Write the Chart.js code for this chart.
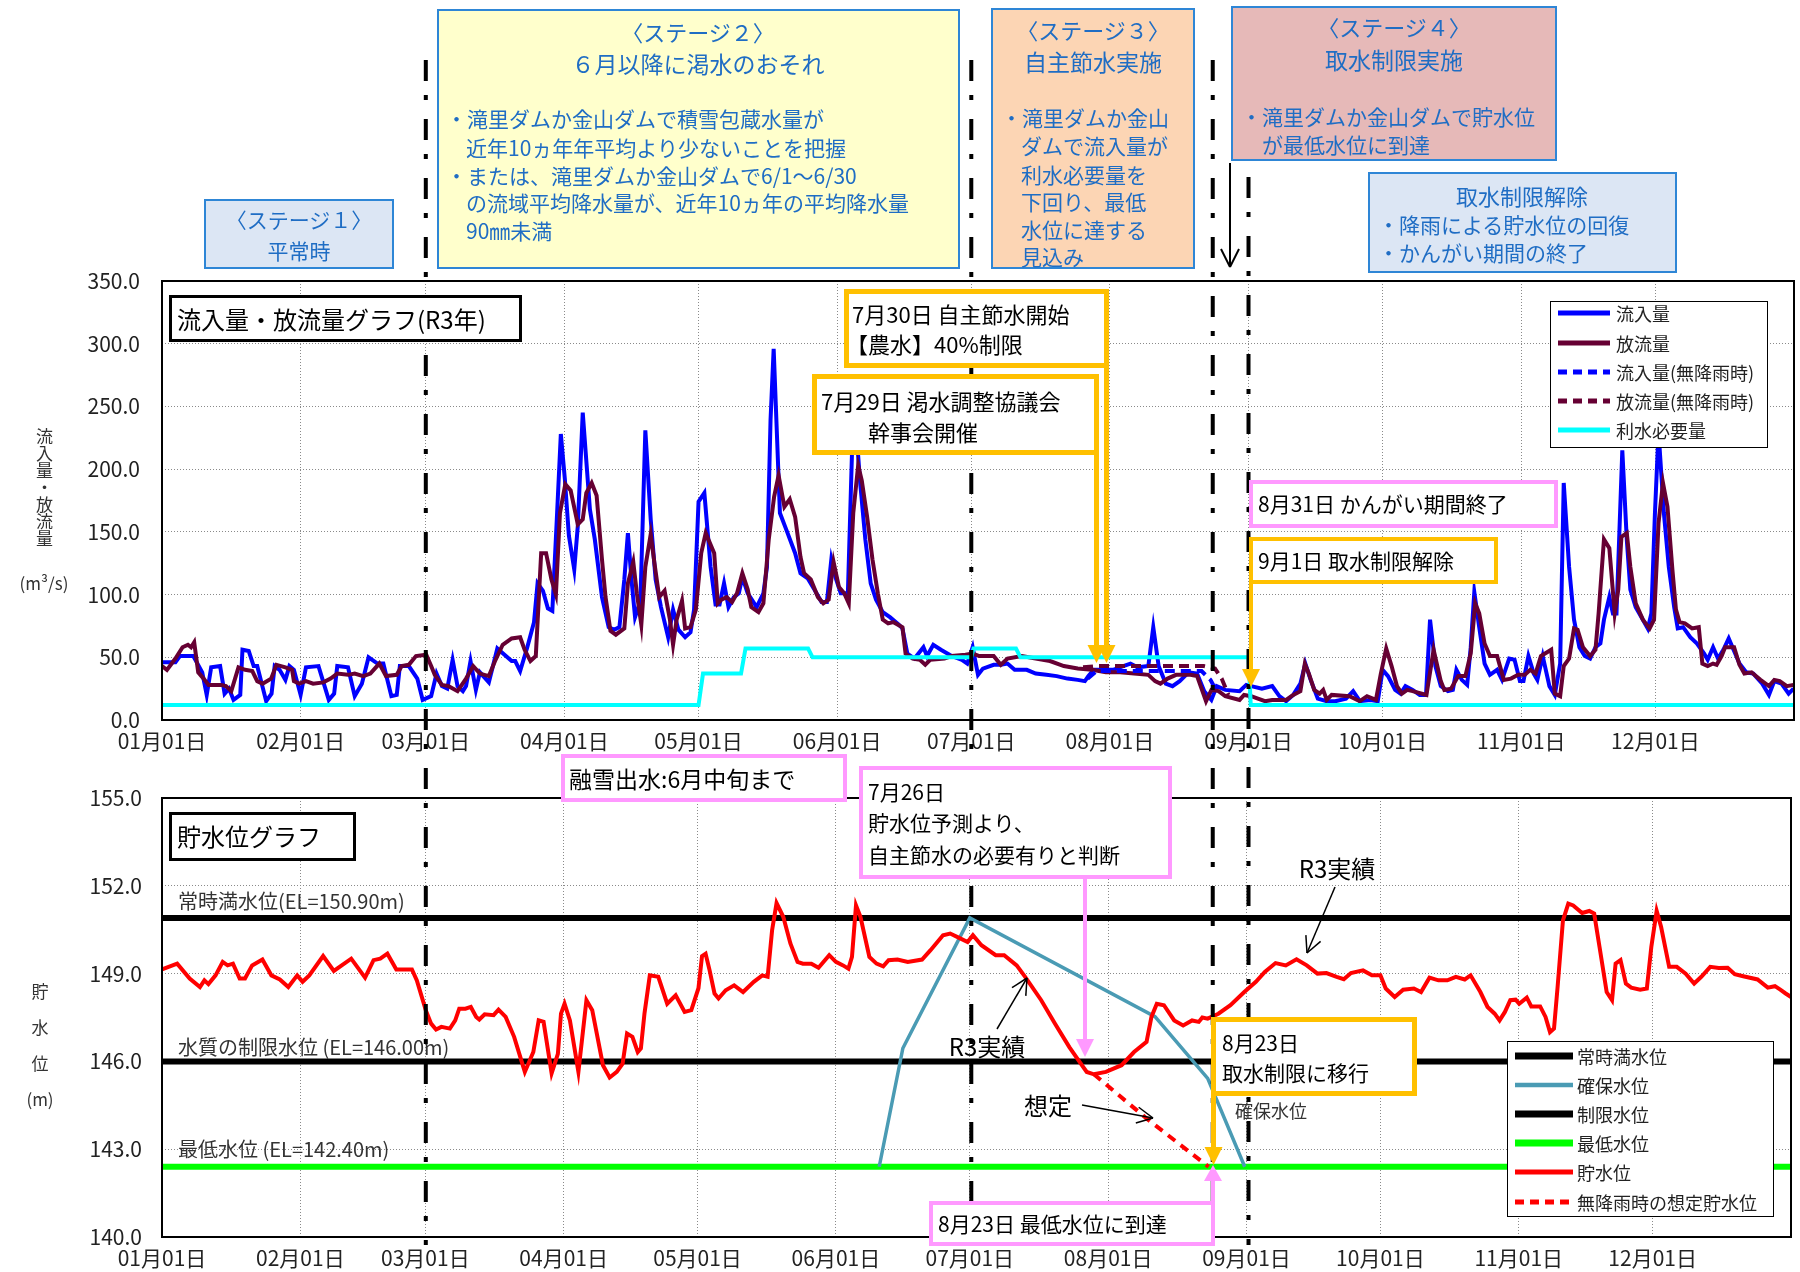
<!DOCTYPE html>
<html lang="ja">
<head>
<meta charset="utf-8">
<script src="https://cdn.jsdelivr.net/npm/chart.js@4.4.1/dist/chart.umd.min.js"></script>
<style>
  html, body { margin: 0; padding: 0; background: #fff; }
  #wrap { position: relative; width: 1800px; height: 1272px; overflow: hidden;
          font-family: "Noto Sans CJK JP", "Noto Sans", sans-serif; }
  canvas { position: absolute; left: 0; }
  #topChart { top: 0; }
  #bottomChart { top: 760px; }
  .box { position: absolute; box-sizing: border-box; }
  .ln { position: absolute; white-space: nowrap; }
  .vt { position: absolute; writing-mode: vertical-rl; color: #333; }
  svg { position: absolute; left: 0; top: 0; }
</style>
</head>
<body>
<div id="wrap">
  <canvas id="topChart" width="1800" height="760"></canvas>
  <canvas id="bottomChart" width="1800" height="512"></canvas>
</div>
<script>
// ---------- data (x = day of year, 01月01日 = 0) ----------
const monthTicks = [0, 31, 59, 90, 120, 151, 181, 212, 243, 273, 304, 334];
const monthLabels = ['01月01日', '02月01日', '03月01日', '04月01日', '05月01日', '06月01日',
                     '07月01日', '08月01日', '09月01日', '10月01日', '11月01日', '12月01日'];
const stageDays = [59, 181, 235, 243];   // dash-dot stage boundaries

// 流入量 (m3/s)
const inflow = [[0,46],[3,46],[4,51],[7,51],[9,38],[10,20],[11,42],[13,43],[14,21],[15,25],[16,16],[17.5,20],[18,56],[19.4,55],[20.5,43],[21.3,43],[23.3,15],[24.5,21],[25.2,43],[26.3,40],[27.6,32],[28.5,43],[29.5,40],[31,20],[32.2,42],[35,43],[37.3,16],[38.5,21],[39.2,43],[41.6,42],[43.1,19],[44.7,29],[46.2,50],[48.2,45],[49.5,45],[51.3,19],[52.5,20],[53.2,43],[55.2,43],[57.1,33],[58.3,16],[60.2,19],[61.4,37],[62.6,27],[63.8,25],[65,48],[66.1,27],[67.3,23],[68,27],[69,47],[70.2,24],[71.1,38],[73.1,30],[75,57],[76.6,52],[78.2,47],[79,47],[80.1,39],[81.7,58],[83.2,78],[84,109],[85.2,103],[86.3,89],[87.3,87],[88.3,160],[89.2,228],[90.1,192],[91,147],[92.2,120],[93,155],[94.1,245],[95.7,168],[96.8,144],[98.4,98],[99.9,74],[101.1,72],[102.3,74],[103.4,112],[104.2,149],[105,112],[105.8,82],[107,95],[108.1,231],[109.3,160],[110.4,112],[111.6,90],[113.2,66],[114.3,88],[115.5,72],[117,66],[118.2,70],[119,88],[120,174],[121.3,181],[122.7,122],[123.8,92],[124.7,92],[125.7,109],[126.7,90],[127.9,98],[129,101],[129.8,114],[131,101],[133,90],[134.5,101],[135.3,122],[136.1,239],[136.8,296],[138.2,165],[139.6,152],[141.6,133],[142.8,117],[144.4,113],[145.9,104],[147.5,94],[148.7,94],[149.7,128],[150.6,114],[151.8,101],[153.4,101],[154.5,235],[155.2,235],[156.1,191],[157.3,144],[158.5,109],[159.7,96],[161.2,86],[162.8,82],[164.8,76],[165.6,73],[166.7,53],[168.3,49],[170.3,58],[171.1,51],[172.5,60],[174.2,56],[176.6,51],[178.9,48],[180.1,45],[181.3,58],[182.5,36],[183.6,41],[186,44],[187.6,44],[189.1,45],[190.7,40],[193.4,40],[195.4,37],[197.8,36],[200.1,35],[202.5,33],[204.8,32],[206.4,31],[207.2,35],[208.4,40],[210.3,40],[212.7,40],[215,43],[216.6,45],[218.2,42],[220.6,43],[221.7,74],[222.9,43],[224.5,29],[226,27],[227.6,31],[229.6,38],[231.5,37],[233.1,23],[234.7,16],[235.9,27],[237.8,24],[241,23],[242.5,28],[243.6,27],[246,25],[248.3,27],[249.9,19],[251.4,15],[253,20],[254.6,29],[255.7,45],[256.9,32],[258.5,17],[260.5,15],[262.4,15],[264.8,17],[266.4,23],[267.9,15],[270.3,16],[271.9,15],[273,40],[274.2,35],[275.8,24],[277,21],[278.1,27],[279.7,24],[281.3,20],[282.7,20],[283.6,80],[284.8,43],[286,27],[287.6,23],[288.7,24],[289.5,40],[290.7,32],[291.9,28],[292.7,58],[293.5,102],[294.6,74],[295.8,45],[297,36],[298.6,40],[299.7,32],[301.3,49],[302.5,48],[303.7,31],[304.5,31],[305.6,51],[306.8,37],[307.6,32],[308.8,51],[310.3,27],[311.5,20],[312.7,45],[313.5,189],[314.7,122],[315.8,80],[317,58],[318.2,51],[319.4,49],[320.6,58],[321.7,61],[322.5,80],[323.7,98],[324.5,85],[325.3,85],[326.6,215],[327.6,144],[328.4,104],[329.6,90],[331.2,80],[332.3,73],[333.1,85],[333.9,165],[334.7,230],[335.9,165],[337,122],[338.2,90],[339,73],[340.2,74],[341.8,66],[343.3,61],[344.9,53],[345.7,48],[346.9,58],[348,49],[349.2,56],[350.4,65],[351.6,55],[352.8,45],[354.3,38],[355.9,37],[357.9,29],[359.4,20],[360.6,31],[362.2,29],[363.8,21],[364.9,25]];

// 放流量 (m3/s)
const outflow = [[0,43],[1.1,40],[3,49],[4.6,58],[5.8,60],[6.5,58],[7.2,62],[8.1,38],[9.3,33],[10.4,28],[13.2,28],[14.3,27],[15.5,23],[17.1,42],[18.6,40],[20.2,39],[21.3,31],[22.5,29],[24.4,33],[25.6,44],[27.6,42],[29.1,40],[29.5,31],[30.7,29],[32.2,31],[33.8,29],[36.1,30],[37.7,33],[39.2,37],[41.6,36],[43.1,37],[45,35],[46.6,37],[48.6,45],[50.1,35],[52.5,36],[53.6,43],[55.2,44],[56.8,51],[59.1,52],[60.2,43],[61,36],[62.6,28],[64.1,27],[66.1,23],[68,33],[69.6,43],[71.1,37],[73.1,35],[74.6,48],[76.2,60],[78.2,65],[80.1,66],[81.1,56],[82.4,47],[83.6,51],[84.8,133],[85.9,133],[87.1,112],[88.1,100],[89,165],[90.2,188],[91.4,183],[93,156],[94.1,160],[94.9,181],[96.1,189],[97.2,179],[98.4,128],[99.2,98],[100.3,71],[101.5,68],[103.4,73],[104.2,109],[105.4,126],[106.2,101],[107.2,76],[108.1,122],[109.3,148],[110.1,126],[111.2,98],[112.4,103],[113.6,80],[114.3,60],[115.1,80],[116.3,95],[117,73],[118.2,74],[119.4,88],[120.6,133],[121.6,149],[123.5,133],[124.3,93],[125.1,96],[126.3,98],[127.5,94],[128.6,101],[129.8,117],[131,104],[131.8,90],[133.4,86],[134.5,93],[135.7,144],[136.9,178],[137.9,195],[139.2,170],[140.4,176],[141.6,162],[142.8,130],[143.6,117],[145.1,112],[146.7,98],[147.9,93],[149.1,96],[150.2,126],[151.4,106],[152.6,101],[153.6,93],[154.6,165],[155.7,203],[156.5,191],[157.7,162],[158.9,128],[160.1,101],[161.2,80],[162.4,77],[163.6,78],[165.6,74],[166.3,53],[167.9,49],[169.5,48],[170.7,44],[171.8,48],[175,49],[176.6,51],[179.7,52],[181.3,53],[182.8,51],[186,51],[187.6,44],[189.1,49],[192.3,51],[195.4,49],[198.6,47],[201.7,43],[204.8,41],[208,40],[211.1,38],[214.3,38],[217.4,37],[220.6,36],[222.1,31],[223.3,29],[224.9,33],[226.8,36],[230,36],[231.5,35],[233.5,15],[234.7,24],[236.3,23],[237.8,19],[241,16],[242,20],[243.6,19],[245.1,17],[246.7,15],[248.3,16],[251.4,16],[253,20],[254.6,23],[255.6,45],[256.5,37],[257.7,24],[258.9,21],[259.7,24],[260.5,16],[261.6,20],[265.6,19],[267.9,15],[269.5,19],[271.5,16],[272.6,37],[273.8,57],[275,43],[276.2,27],[277.3,21],[278.5,24],[279.7,23],[282.8,20],[284.4,56],[286,31],[286.8,24],[288.3,25],[289.9,35],[291.5,35],[292.7,53],[293.7,93],[294.6,85],[295.8,61],[297,51],[298.6,51],[300.1,32],[301.7,33],[303.3,36],[304.8,36],[306,40],[307.2,37],[308.4,51],[310.7,56],[311.5,21],[312.7,19],[313.5,43],[314.7,49],[315.8,73],[316.6,72],[317.8,58],[319.4,51],[320.6,56],[321.3,85],[322.5,144],[323.7,137],[324.9,85],[325.7,104],[326.4,146],[327.6,149],[328.4,122],[329.6,93],[331.2,80],[332.7,73],[333.7,80],[334.7,157],[335.7,189],[336.7,170],[337.8,120],[338.6,88],[339.4,78],[340.6,77],[342.2,73],[343.7,74],[344.5,45],[345.7,43],[346.9,45],[347.7,44],[348.8,51],[349.6,58],[351.6,58],[352.8,44],[353.9,37],[355.5,38],[357.5,32],[359.4,27],[360.6,32],[361.8,31],[363.4,27],[364.9,28]];

// 無降雨時 (dry-weather assumption)
const inflowDry = [[207,33],[209,39],[232.5,39],[234.5,32],[236,22]];
const outflowDry = [[206,42],[209,43],[233,43],[235.5,41],[237,33],[238.5,20]];

// 利水必要量 (step)
const demand = [[0,12],[120,12],[121,37],[129.5,37],[130.5,57],[144.5,57],[145.5,50],[181,50],[181.5,57],[191,57],[192,50],[243,50],[243.5,12],[365,12]];

// 貯水位 (m)
const storage = [[0,149.14],[3.4,149.34],[6.2,148.83],[8.5,148.54],[9.5,148.77],[10.4,148.64],[12,148.94],[13.6,149.4],[14.7,149.28],[15.9,149.34],[17.4,148.83],[18.6,148.83],[20.2,149.28],[22.5,149.48],[24.5,148.94],[26.4,148.8],[28.3,148.54],[30.3,148.94],[31.5,148.72],[33,148.94],[36.1,149.6],[38.5,149.09],[42.4,149.51],[45.5,148.86],[47.4,149.46],[48.9,149.51],[50.5,149.68],[52.5,149.14],[56,149.14],[57.1,148.77],[59.1,147.75],[60.3,147.29],[61.4,147.09],[62.6,147.18],[64.5,147.12],[65.7,147.4],[66.6,147.8],[68,147.8],[69.2,147.86],[70.4,147.52],[71.1,147.43],[72.3,147.61],[74.3,147.58],[75.4,147.77],[77,147.52],[78.9,146.84],[81.3,145.64],[83.2,146.32],[84.4,147.4],[85.5,147.35],[87.3,145.59],[88.7,146.26],[89.4,147.63],[90.2,147.97],[91.4,147.4],[93.3,145.64],[95.1,148.09],[96.4,147.75],[98.8,145.87],[100.3,145.45],[101.9,145.64],[103.2,145.92],[104.2,146.95],[105.4,146.84],[106.6,146.32],[107.3,146.44],[108.1,147.63],[109.3,148.94],[111.2,148.89],[113.2,147.97],[115.1,148.26],[117.1,147.69],[118.6,147.75],[120.2,148.5],[121,149.6],[121.8,149.68],[122.7,149.11],[123.8,148.32],[124.7,148.15],[126.3,148.43],[128.2,148.6],[130.2,148.37],[132.6,148.72],[134.5,148.94],[135.7,148.89],[136.7,150.48],[137.7,151.41],[139.2,150.94],[140.8,150.03],[142.4,149.4],[143.6,149.34],[145.5,149.34],[147.1,149.2],[149.5,149.63],[151,149.4],[152.6,149.28],[153.8,149.17],[154.6,149.57],[155.5,151.33],[156.5,150.94],[158.5,149.57],[160.1,149.34],[161.6,149.25],[162.8,149.46],[164.8,149.48],[167.1,149.4],[170.3,149.48],[172.2,149.8],[175,150.31],[176.6,150.37],[178.5,150.23],[180.5,150.08],[181.7,150.31],[183.6,149.97],[186.8,149.63],[188.7,149.63],[191.5,149.28],[193.4,148.89],[197,148.09],[200.1,147.29],[203.3,146.49],[205.6,145.98],[207.2,145.64],[208.8,145.56],[211.5,145.64],[215,145.87],[217.8,146.32],[220.6,146.67],[221.7,147.52],[222.9,147.97],[224.5,147.92],[226.8,147.4],[228.8,147.23],[230.8,147.4],[232.3,147.35],[233.1,147.5],[234.3,147.46],[236.7,147.63],[239.4,147.92],[242.5,148.37],[245.1,148.72],[247.1,149.06],[249.5,149.36],[251.8,149.28],[254.2,149.49],[256.5,149.28],[258.9,149.0],[260.9,149.02],[263.2,148.89],[264.8,148.81],[266.4,149.02],[269.1,149.11],[271.1,148.94],[273,148.94],[274.2,148.49],[276.2,148.2],[278.1,148.45],[280.5,148.49],[282.1,148.37],[284,148.86],[286,148.77],[288,148.77],[289.9,148.89],[291.9,148.8],[293.2,148.94],[295.4,148.37],[297,147.86],[298.6,147.63],[299.7,147.4],[300.9,147.69],[302.1,148.09],[303.3,148.11],[304.1,147.97],[305.8,148.18],[306.8,147.88],[308.8,147.88],[310,147.52],[311,147.0],[311.9,147.12],[312.7,148.54],[313.9,150.82],[315.1,151.39],[316.2,151.33],[318.2,151.07],[319.8,151.14],[320.9,151.05],[322.1,149.91],[323.7,148.37],[324.9,148.09],[325.7,149.34],[326.8,149.46],[328,148.66],[329.2,148.52],[331.2,148.45],[332.7,148.49],[333.7,149.91],[334.9,151.14],[335.9,150.59],[337.7,149.23],[339.4,149.23],[341.4,149.0],[343.3,148.66],[344.9,148.89],[346.9,149.23],[348.8,149.19],[350.8,149.2],[352.4,148.98],[354.3,148.91],[357.5,148.8],[359.8,148.52],[361.4,148.57],[362.6,148.45],[363.8,148.32],[365,148.2]];
const storageDry = [[208.8,145.56],[221,144.0],[234.5,142.4]];   // 無降雨時の想定貯水位
const securedLevel = [[160.7,142.4],[166,146.45],[181,150.9],[222.5,147.53],[234.3,145.42],[242.6,142.4]]; // 確保水位
const fullLevel = 150.9;   // 常時満水位
const limitLevel = 146.0;  // 制限水位
const lowLevel = 142.4;    // 最低水位

// ---------- chart helpers ----------
const FONT = '"Noto Sans CJK JP", "Noto Sans", sans-serif';
const xy = a => a.map(([x, y]) => ({ x, y }));
const flat = v => [{ x: 0, y: v }, { x: 365, y: v }];

const framePlugin = {
  id: 'frame',
  afterDatasetsDraw(chart) {
    const { ctx, chartArea: a } = chart;
    ctx.save();
    ctx.strokeStyle = '#000';
    ctx.lineWidth = 2;
    ctx.strokeRect(a.left, a.top, a.right - a.left, a.bottom - a.top);
    ctx.restore();
  }
};

function lineSet(label, data, color, width, order, dash) {
  return { label, data, borderColor: color, backgroundColor: color, borderWidth: width,
           borderDash: dash || [], pointRadius: 0, tension: 0, fill: false, order };
}

function xAxis(h) {
  return {
    type: 'linear', min: 0, max: 365,
    afterBuildTicks: s => { s.ticks = monthTicks.map(v => ({ value: v })); },
    afterFit: s => { s.height = h; },
    grid: { color: '#8a8a8a', lineWidth: 1, drawTicks: false },
    border: { display: false, dash: [1, 2] },
    ticks: { autoSkip: false, maxRotation: 0, padding: 8, color: '#222',
             font: { family: FONT, size: 21 },
             callback: (v, i) => monthLabels[i] }
  };
}

function yAxis(min, max, step, pad) {
  return {
    min, max,
    afterFit: s => { s.width = 162; },
    grid: { color: '#8a8a8a', lineWidth: 1, drawTicks: false },
    border: { display: false, dash: [1, 2] },
    ticks: { stepSize: step, padding: pad, color: '#222',
             font: { family: FONT, size: 21 },
             callback: v => v.toFixed(1) }
  };
}

const common = {
  responsive: false, animation: false, parsing: true,
  plugins: { legend: { display: false }, tooltip: { enabled: false } }
};

const topChart = new Chart(document.getElementById('topChart'), {
  type: 'line',
  data: { datasets: [
    lineSet('流入量', xy(inflow), '#0000ff', 4, 5),
    lineSet('放流量', xy(outflow), '#660033', 4, 4),
    lineSet('流入量(無降雨時)', xy(inflowDry), '#0000ff', 4, 3, [10, 6]),
    lineSet('放流量(無降雨時)', xy(outflowDry), '#660033', 4, 2, [10, 6]),
    lineSet('利水必要量', xy(demand), '#00ffff', 4, 1)
  ]},
  options: Object.assign({}, common, {
    layout: { padding: { left: 0, right: 6, top: 281, bottom: 0 } },
    scales: { x: xAxis(40), y: yAxis(0, 350, 50, 22) }
  }),
  plugins: [framePlugin]
});

const bottomChart = new Chart(document.getElementById('bottomChart'), {
  type: 'line',
  data: { datasets: [
    lineSet('常時満水位', flat(fullLevel), '#000000', 6, 5),
    lineSet('確保水位', xy(securedLevel), '#4a9bb4', 3.5, 3),
    lineSet('制限水位', flat(limitLevel), '#000000', 6, 4),
    lineSet('最低水位', flat(lowLevel), '#00ff00', 6, 6),
    lineSet('貯水位', xy(storage), '#ff0000', 4, 1),
    lineSet('無降雨時の想定貯水位', xy(storageDry), '#ff0000', 4, 2, [9, 7])
  ]},
  options: Object.assign({}, common, {
    layout: { padding: { left: 0, right: 9, top: 38, bottom: 0 } },
    scales: { x: xAxis(35), y: yAxis(140, 155, 3, 20) }
  }),
  plugins: [framePlugin]
});

// ---------- overlay: stage lines, boxes, texts, arrows ----------
const wrap = document.getElementById('wrap');
const NS = 'http://www.w3.org/2000/svg';
function svgLayer() {
  const s = document.createElementNS(NS, 'svg');
  s.setAttribute('width', 1800); s.setAttribute('height', 1272);
  wrap.appendChild(s);
  return s;
}
function el(name, attrs, parent) {
  const e = document.createElementNS(NS, name);
  for (const k in attrs) e.setAttribute(k, attrs[k]);
  parent.appendChild(e);
  return e;
}

// stage boundaries (dash-dot), placed through the x scale
const under = svgLayer();
const stageTop = [60, 60, 60, 177];
stageDays.forEach((d, i) => {
  const x = topChart.scales.x.getPixelForValue(d);
  el('line', { x1: x, y1: stageTop[i], x2: x, y2: 1245, stroke: '#000', 'stroke-width': 4,
               'stroke-dasharray': '21 14 5 19' }, under);
});

const BLUE_T = '#1f6dc4', BLUE_B = '#2e86d6', ORANGE = '#ffc000', PINK = '#ff99ff';
const boxes = [
  [204, 199, 190, 70, '#dce6f4', BLUE_B, 2],
  [437, 9, 523, 260, '#ffffcc', BLUE_B, 2],
  [991, 8, 204, 261, '#fcd5b4', BLUE_B, 2],
  [1231, 6, 326, 155, '#e6b9b8', BLUE_B, 2],
  [1368, 172, 309, 101, '#dce6f4', BLUE_B, 2],
  [169, 295, 353, 47, '#fff', '#000', 3],
  [844, 289, 265, 79, '#fff', ORANGE, 5],
  [812, 374, 287, 81, '#fff', ORANGE, 5],
  [1249, 480, 309, 48, '#fff', PINK, 4],
  [1249, 537, 249, 47, '#fff', ORANGE, 4],
  [1550, 301, 218, 147, '#fff', '#000', 1.5],
  [561, 754, 286, 48, '#fff', PINK, 4],
  [859, 766, 313, 113, '#fff', PINK, 4],
  [169, 812, 187, 49, '#fff', '#000', 3],
  [1211, 1017, 206, 79, '#fff', ORANGE, 5],
  [929, 1201, 286, 45, '#fff', PINK, 4],
  [1507, 1041, 267, 176, '#fff', '#000', 1.5]
];
boxes.forEach(([x, y, w, h, bg, bc, bw]) => {
  const d = document.createElement('div');
  d.className = 'box';
  Object.assign(d.style, { left: x + 'px', top: y + 'px', width: w + 'px', height: h + 'px',
                           background: bg, border: `${bw}px solid ${bc}` });
  wrap.appendChild(d);
});

// [text, x, centre y, size, colour, centred]
const texts = [
  ['〈ステージ１〉', 299, 220, 21, BLUE_T, true],
  ['平常時', 299, 251, 21, BLUE_T, true],
  ['〈ステージ２〉', 698, 31, 22, BLUE_T, true],
  ['６月以降に渇水のおそれ', 698, 63, 23, BLUE_T, true],
  ['・滝里ダムか金山ダムで積雪包蔵水量が', 446, 119, 21, BLUE_T],
  ['近年10ヵ年年平均より少ないことを把握', 466, 148, 21, BLUE_T],
  ['・または、滝里ダムか金山ダムで6/1～6/30', 446, 176, 21, BLUE_T],
  ['の流域平均降水量が、近年10ヵ年の平均降水量', 466, 203, 21, BLUE_T],
  ['90㎜未満', 466, 231, 21, BLUE_T],
  ['〈ステージ３〉', 1093, 29, 22, BLUE_T, true],
  ['自主節水実施', 1093, 61, 23, BLUE_T, true],
  ['・滝里ダムか金山', 1001, 118, 21, BLUE_T],
  ['ダムで流入量が', 1021, 146, 21, BLUE_T],
  ['利水必要量を', 1021, 175, 21, BLUE_T],
  ['下回り、最低', 1021, 202, 21, BLUE_T],
  ['水位に達する', 1021, 230, 21, BLUE_T],
  ['見込み', 1021, 257, 21, BLUE_T],
  ['〈ステージ４〉', 1394, 26, 22, BLUE_T, true],
  ['取水制限実施', 1394, 59, 23, BLUE_T, true],
  ['・滝里ダムか金山ダムで貯水位', 1241, 117, 21, BLUE_T],
  ['が最低水位に到達', 1262, 145, 21, BLUE_T],
  ['取水制限解除', 1522, 195, 22, BLUE_T, true],
  ['・降雨による貯水位の回復', 1378, 225, 21, BLUE_T],
  ['・かんがい期間の終了', 1378, 253, 21, BLUE_T],
  ['流入量・放流量グラフ(R3年)', 177, 319, 24, '#000'],
  ['7月30日 自主節水開始', 852, 313, 22, '#000'],
  ['【農水】40%制限', 846, 343, 22, '#000'],
  ['7月29日 渇水調整協議会', 821, 400, 22, '#000'],
  ['幹事会開催', 868, 431, 22, '#000'],
  ['8月31日 かんがい期間終了', 1258, 504, 21, '#000'],
  ['9月1日 取水制限解除', 1258, 561, 21, '#000'],
  ['融雪出水:6月中旬まで', 569, 778, 23, '#000'],
  ['7月26日', 868, 792, 21, '#000'],
  ['貯水位予測より、', 868, 823, 21, '#000'],
  ['自主節水の必要有りと判断', 868, 855, 21, '#000'],
  ['貯水位グラフ', 177, 836, 24, '#000'],
  ['R3実績', 1337, 868, 24, '#000', true],
  ['R3実績', 987, 1046, 24, '#000', true],
  ['想定', 1048, 1105, 24, '#000', true],
  ['8月23日', 1222, 1043, 21, '#000'],
  ['取水制限に移行', 1222, 1073, 21, '#000'],
  ['確保水位', 1235, 1111, 18, '#333'],
  ['8月23日 最低水位に到達', 938, 1224, 21, '#000'],
  ['常時満水位(EL=150.90m)', 178, 901, 20, '#333'],
  ['水質の制限水位 (EL=146.00m)', 178, 1047, 20, '#333'],
  ['最低水位 (EL=142.40m)', 178, 1149, 20, '#333'],
  ['(m³/s)', 44, 583, 17, '#333', true],
  ['貯', 40, 991, 17, '#333', true],
  ['水', 40, 1027, 17, '#333', true],
  ['位', 40, 1063, 17, '#333', true],
  ['(m)', 40, 1099, 17, '#333', true]
];
texts.forEach(([t, x, cy, size, color, centred]) => {
  const d = document.createElement('div');
  d.className = 'ln';
  d.textContent = t;
  Object.assign(d.style, { left: x + 'px', top: (cy - size * 0.7) + 'px', fontSize: size + 'px',
                           lineHeight: (size * 1.4) + 'px', color,
                           transform: centred ? 'translateX(-50%)' : 'none' });
  wrap.appendChild(d);
});
const vt = document.createElement('div');
vt.className = 'vt';
vt.textContent = '流入量・放流量';
Object.assign(vt.style, { left: '34px', top: '428px', fontSize: '17px', lineHeight: '20px' });
wrap.appendChild(vt);

const over = svgLayer();

// legends, built from the datasets
function legend(chart, x0, x1, tx, ys) {
  chart.data.datasets.forEach((ds, i) => {
    el('line', { x1: x0, y1: ys[i], x2: x1, y2: ys[i], stroke: ds.borderColor,
                 'stroke-width': ds.borderWidth + 1,
                 'stroke-dasharray': ds.borderDash.length ? '9 6' : 'none' }, over);
    const d = document.createElement('div');
    d.className = 'ln';
    d.textContent = ds.label;
    Object.assign(d.style, { left: tx + 'px', top: (ys[i] - 13) + 'px', fontSize: '18px',
                             lineHeight: '26px', color: '#222' });
    wrap.appendChild(d);
  });
}

function arrow(x1, y1, x2, y2, color, w, hl, hw, open) {
  const dx = x2 - x1, dy = y2 - y1, len = Math.hypot(dx, dy), ux = dx / len, uy = dy / len;
  if (open) {
    el('line', { x1, y1, x2, y2, stroke: color, 'stroke-width': w }, over);
    [-1, 1].forEach(s => el('line', { x1: x2, y1: y2, x2: x2 - ux * hl - uy * hw * s,
      y2: y2 - uy * hl + ux * hw * s, stroke: color, 'stroke-width': w }, over));
  } else {
    const bx = x2 - ux * hl, by = y2 - uy * hl;
    el('line', { x1, y1, x2: bx, y2: by, stroke: color, 'stroke-width': w }, over);
    el('polygon', { points: `${x2},${y2} ${bx - uy * hw},${by + ux * hw} ${bx + uy * hw},${by - ux * hw}`,
                    fill: color }, over);
  }
}
arrow(1096.5, 455, 1096.5, 663, ORANGE, 5, 18, 9);
arrow(1106.5, 368, 1106.5, 663, ORANGE, 5, 18, 9);
arrow(1251, 584, 1251, 687, ORANGE, 4, 18, 9);
arrow(1085, 879, 1085, 1057, PINK, 4, 18, 9);
arrow(1213.5, 1096, 1213.5, 1165, ORANGE, 5, 18, 9);
arrow(1213, 1201, 1213, 1165, PINK, 4, 16, 9);
arrow(1230, 163, 1230, 267, '#000', 2, 18, 9, true);
arrow(1335, 887, 1307, 953, '#000', 1.5, 16, 8, true);
arrow(997, 1029, 1027, 978, '#000', 1.5, 16, 8, true);
arrow(1082, 1105, 1153, 1118, '#000', 1.5, 16, 8, true);

legend(topChart, 1558, 1610, 1616, [313, 343, 372, 401, 430]);
legend(bottomChart, 1515, 1573, 1577, [1056, 1085, 1114, 1143, 1172, 1202]);
</script>
</body>
</html>
